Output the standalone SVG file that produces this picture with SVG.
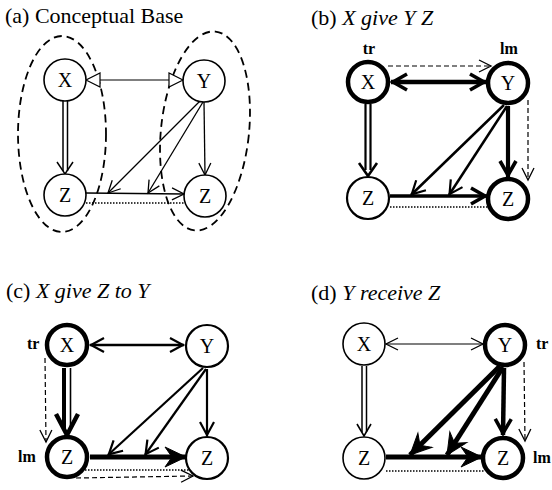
<svg xmlns="http://www.w3.org/2000/svg" width="552" height="490" viewBox="0 0 552 490">
<style>
text{font-family:'Liberation Serif','Times New Roman','DejaVu Serif',serif}
.title{font-size:22px;fill:#000}
.it{font-style:italic}
.lbl{font-size:20px;fill:#000;text-anchor:middle}
.role{font-size:16px;font-weight:bold;fill:#000}
.n1{fill:#fff;stroke:#000;stroke-width:1.6}
.n2{fill:#fff;stroke:#000;stroke-width:2.2}
.nt{fill:#fff;stroke:#000;stroke-width:4.5}
.e{stroke:#000;fill:none}
.dash{stroke:#000;stroke-width:1.2;stroke-dasharray:5 3;fill:none}
.dot{stroke:#000;stroke-width:1.5;stroke-dasharray:1.5 1.5;fill:none}
.ell{fill:none;stroke:#000;stroke-width:1.8;stroke-dasharray:8 5}
</style>
<defs>
<marker id="v1" viewBox="-15 -8 17 16" markerWidth="17" markerHeight="16" refX="0" refY="0" markerUnits="userSpaceOnUse" orient="auto-start-reverse"><path d="M-12,-6 L0,0 L-12,6" fill="none" stroke="#000" stroke-width="1.3"/></marker>
<marker id="v2" viewBox="-16 -9 18 18" markerWidth="18" markerHeight="18" refX="0" refY="0" markerUnits="userSpaceOnUse" orient="auto-start-reverse"><path d="M-14,-7 L-1,0 L-14,7" fill="none" stroke="#000" stroke-width="2.2"/></marker>
<marker id="vt" viewBox="-20 -11 22 22" markerWidth="22" markerHeight="22" refX="0" refY="0" markerUnits="userSpaceOnUse" orient="auto-start-reverse"><path d="M-16,-8 L-2,0 L-16,8" fill="none" stroke="#000" stroke-width="3.6"/></marker>
<marker id="big" viewBox="-23 -12 25 24" markerWidth="25" markerHeight="24" refX="0" refY="0" markerUnits="userSpaceOnUse" orient="auto-start-reverse"><path d="M0,0 L-21,-10 L-14,0 L-21,10 Z" fill="#000" stroke="#000" stroke-width="1"/></marker>
<marker id="tri" viewBox="-16 -9 18 18" markerWidth="18" markerHeight="18" refX="0" refY="0" markerUnits="userSpaceOnUse" orient="auto-start-reverse"><path d="M0,0 L-14,-7 L-14,7 Z" fill="#fff" stroke="#000" stroke-width="1.2"/></marker>
</defs>

<g id="titles" font-family="'Liberation Serif','Times New Roman','DejaVu Serif',serif">
<text class="title" x="5" y="23">(a) Conceptual Base</text>
<text class="title" x="311" y="25">(b) <tspan class="it">X give Y Z</tspan></text>
<text class="title" x="6" y="298">(c) <tspan class="it">X give Z to Y</tspan></text>
<text class="title" x="311" y="300">(d) <tspan class="it">Y receive Z</tspan></text>
</g>

<!-- Panel (a) -->
<g id="a-groups">
<ellipse class="ell" cx="62" cy="134" rx="44" ry="98"/>
<ellipse class="ell" cx="205" cy="131" rx="44" ry="100" transform="rotate(6 205 131)"/>
</g>
<g id="a-connectors">
<line class="e" stroke-width="1.2" x1="86" y1="80" x2="183" y2="80" marker-start="url(#tri)" marker-end="url(#tri)"/>
<line class="e" stroke-width="1.5" x1="63" y1="101" x2="63" y2="171"/>
<line class="e" stroke-width="1.5" x1="67.5" y1="101" x2="67.5" y2="171"/>
<path class="e" stroke-width="1.5" d="M57,162 L65,174 L73,162"/>
<line class="e" stroke-width="1.3" x1="204" y1="102" x2="205" y2="175" marker-end="url(#v1)"/>
<line class="e" stroke-width="1.3" x1="200" y1="101" x2="108" y2="193" marker-end="url(#v1)"/>
<line class="e" stroke-width="1.3" x1="203" y1="102" x2="148" y2="193" marker-end="url(#v1)"/>
<line class="e" stroke-width="1.3" x1="86" y1="193" x2="184" y2="194" marker-end="url(#v1)"/>
<line class="dot" x1="86" y1="203" x2="186" y2="203"/>
</g>
<g id="a-X"><circle class="n1" cx="65" cy="80" r="21"/><text class="lbl" x="65" y="87">X</text></g>
<g id="a-Y"><circle class="n1" cx="204" cy="81" r="21"/><text class="lbl" x="204" y="88">Y</text></g>
<g id="a-ZL"><circle class="n1" cx="65" cy="195" r="21"/><text class="lbl" x="65" y="202">Z</text></g>
<g id="a-ZR"><circle class="n1" cx="205" cy="196" r="21"/><text class="lbl" x="205" y="203">Z</text></g>

<!-- Panel (b) -->
<g id="b-connectors">
<line class="e" stroke-width="4.5" x1="391" y1="82" x2="486" y2="82" marker-start="url(#vt)" marker-end="url(#vt)"/>
<line class="dash" x1="388" y1="66" x2="491" y2="66" marker-end="url(#v1)"/>
<line class="e" stroke-width="2.2" x1="365.5" y1="104" x2="365.5" y2="170"/>
<line class="e" stroke-width="2.2" x1="370.5" y1="104" x2="370.5" y2="170"/>
<path class="e" stroke-width="2.6" d="M359,163 L368,176 L377,163"/>
<line class="e" stroke-width="4.2" x1="508" y1="106" x2="508" y2="177" marker-end="url(#vt)"/>
<line class="dash" x1="528" y1="100" x2="528" y2="180" marker-end="url(#v1)"/>
<line class="e" stroke-width="2.5" x1="504" y1="105" x2="411" y2="195" marker-end="url(#v2)"/>
<line class="e" stroke-width="2.5" x1="507" y1="106" x2="449" y2="195" marker-end="url(#v2)"/>
<line class="e" stroke-width="3.6" x1="390" y1="196" x2="487" y2="196" marker-end="url(#vt)"/>
<line class="dot" x1="390" y1="207" x2="489" y2="207"/>
</g>
<g id="b-X"><circle class="nt" cx="368" cy="82" r="20"/><text class="lbl" x="368" y="89">X</text><text class="role" x="369" y="54" text-anchor="middle">tr</text></g>
<g id="b-Y"><circle class="nt" cx="508" cy="83" r="20"/><text class="lbl" x="508" y="90">Y</text><text class="role" x="509" y="54" text-anchor="middle">lm</text></g>
<g id="b-ZL"><circle class="n2" cx="368" cy="198" r="21"/><text class="lbl" x="368" y="205">Z</text></g>
<g id="b-ZR"><circle class="nt" cx="508" cy="199" r="20"/><text class="lbl" x="508" y="206">Z</text></g>

<!-- Panel (c) -->
<g id="c-connectors">
<line class="e" stroke-width="2.6" x1="90" y1="345" x2="184" y2="345" marker-start="url(#v2)" marker-end="url(#v2)"/>
<line class="e" stroke-width="4" x1="64" y1="368" x2="64" y2="430"/>
<line class="e" stroke-width="1.6" x1="70.5" y1="368" x2="70.5" y2="428"/>
<path class="e" stroke-width="4.5" d="M56,414 L67,435 L78,414"/>
<line class="dash" x1="45" y1="358" x2="46" y2="442" marker-end="url(#v1)"/>
<line class="e" stroke-width="2.2" x1="207" y1="369" x2="207" y2="436" marker-end="url(#v2)"/>
<line class="e" stroke-width="2.2" x1="203" y1="368" x2="108" y2="455" marker-end="url(#v2)"/>
<line class="e" stroke-width="2.2" x1="206" y1="369" x2="145" y2="455" marker-end="url(#v2)"/>
<line class="e" stroke-width="4.8" x1="90" y1="457" x2="186" y2="457" marker-end="url(#big)"/>
<line class="dot" x1="82" y1="470" x2="192" y2="470"/>
<line class="dash" x1="76" y1="478" x2="193" y2="476" marker-end="url(#v1)"/>
</g>
<g id="c-X"><circle class="nt" cx="67" cy="345" r="20"/><text class="lbl" x="67" y="352">X</text><text class="role" x="27" y="349">tr</text></g>
<g id="c-Y"><circle class="n2" cx="207" cy="346" r="21"/><text class="lbl" x="207" y="353">Y</text></g>
<g id="c-ZL"><circle class="nt" cx="67" cy="457" r="20"/><text class="lbl" x="67" y="464">Z</text><text class="role" x="18" y="462">lm</text></g>
<g id="c-ZR"><circle class="n2" cx="207" cy="458" r="21"/><text class="lbl" x="207" y="465">Z</text></g>

<!-- Panel (d) -->
<g id="d-connectors">
<line class="e" stroke="#333" stroke-width="1.2" x1="386" y1="344" x2="483" y2="344" marker-start="url(#v1)" marker-end="url(#v1)"/>
<line class="e" stroke-width="1.5" x1="362" y1="366" x2="362" y2="432"/>
<line class="e" stroke-width="1.5" x1="366.5" y1="366" x2="366.5" y2="432"/>
<path class="e" stroke-width="1.6" d="M357,424 L364,436 L371,424"/>
<line class="e" stroke-width="4.5" x1="504" y1="368" x2="503" y2="435" marker-end="url(#vt)"/>
<line class="dash" x1="524" y1="362" x2="525" y2="441" marker-end="url(#v1)"/>
<line class="e" stroke-width="5" x1="500" y1="366" x2="410" y2="455" marker-end="url(#big)"/>
<line class="e" stroke-width="5" x1="503" y1="367" x2="447" y2="455" marker-end="url(#big)"/>
<line class="e" stroke-width="5" x1="386" y1="457" x2="482" y2="457" marker-end="url(#big)"/>
<line class="dot" x1="386" y1="471" x2="484" y2="471"/>
</g>
<g id="d-X"><circle class="n1" cx="364" cy="344" r="21"/><text class="lbl" x="364" y="351">X</text></g>
<g id="d-Y"><circle class="nt" cx="505" cy="345" r="20"/><text class="lbl" x="505" y="352">Y</text><text class="role" x="536" y="349">tr</text></g>
<g id="d-ZL"><circle class="n1" cx="364" cy="458" r="21"/><text class="lbl" x="364" y="465">Z</text></g>
<g id="d-ZR"><circle class="nt" cx="503" cy="458" r="20"/><text class="lbl" x="503" y="465">Z</text><text class="role" x="533" y="463">lm</text></g>
</svg>
